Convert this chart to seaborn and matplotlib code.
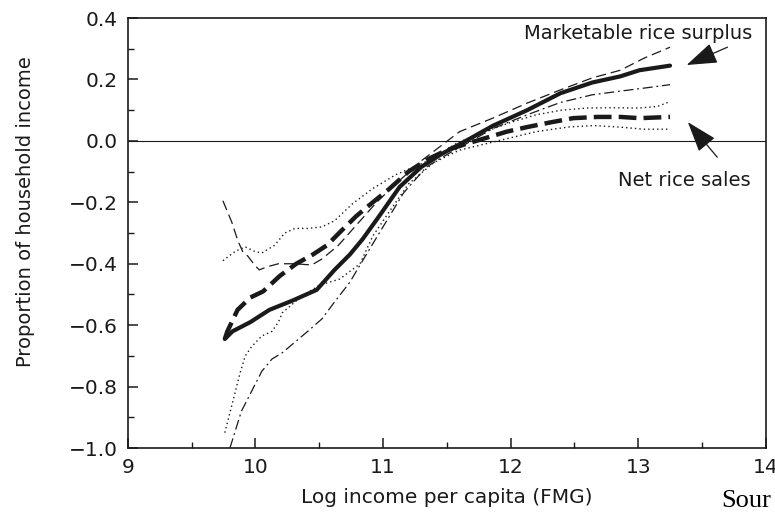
import matplotlib
matplotlib.use("Agg")
import matplotlib.pyplot as plt
import seaborn as sns
from matplotlib.ticker import MultipleLocator, FuncFormatter

# Marketable rice surplus: estimate (thick solid) and its band (thin dashed)
surplus_x = [9.76, 9.82, 9.96, 10.11, 10.29, 10.48, 10.62, 10.74, 10.84, 10.97, 11.13, 11.3,
             11.45, 11.68, 11.86, 12.13, 12.39, 12.64, 12.86, 13.01, 13.25]
surplus_y = [-0.645, -0.62, -0.59, -0.55, -0.52, -0.485, -0.42, -0.37, -0.32, -0.245, -0.15, -0.085,
             -0.045, 0.007, 0.049, 0.10, 0.155, 0.19, 0.21, 0.23, 0.245]

surplus_hi_x = [9.745, 9.815, 9.862, 9.90, 9.94, 9.995, 10.03, 10.09, 10.18, 10.31, 10.44, 10.52,
                10.65, 10.8, 10.95, 11.1, 11.3, 11.6, 11.86, 12.13, 12.39, 12.64, 12.86, 13.05, 13.25]
surplus_hi_y = [-0.195, -0.265, -0.325, -0.36, -0.375, -0.405, -0.42, -0.41, -0.40, -0.40, -0.404, -0.385,
                -0.34, -0.27, -0.20, -0.14, -0.065, 0.03, 0.074, 0.123, 0.166, 0.205, 0.23, 0.27, 0.305]

surplus_lo_x = [9.80, 9.89, 9.97, 10.05, 10.13, 10.21, 10.31, 10.41, 10.52, 10.61, 10.74, 10.84,
                11.0, 11.16, 11.34, 11.52, 11.68, 11.86, 12.13, 12.39, 12.64, 12.86, 13.05, 13.25]
surplus_lo_y = [-1.0, -0.88, -0.815, -0.75, -0.71, -0.69, -0.655, -0.62, -0.58, -0.53, -0.46, -0.39,
                -0.28, -0.17, -0.085, -0.04, -0.003, 0.04, 0.085, 0.125, 0.15, 0.162, 0.172, 0.183]

# Net rice sales: estimate (thick dashed) and its band (dotted)
sales_x = [9.76, 9.78, 9.86, 9.96, 10.06, 10.19, 10.32, 10.45, 10.56, 10.68, 10.79, 10.92, 11.05,
           11.2, 11.35, 11.5, 11.65, 11.81, 11.97, 12.13, 12.31, 12.49, 12.68, 12.86, 13.01, 13.25]
sales_y = [-0.645, -0.62, -0.55, -0.51, -0.49, -0.44, -0.40, -0.37, -0.34, -0.29, -0.245, -0.20, -0.156,
           -0.10, -0.06, -0.03, -0.01, 0.01, 0.03, 0.045, 0.06, 0.074, 0.078, 0.078, 0.074, 0.078]

sales_hi_x = [9.745, 9.84, 9.92, 9.995, 10.05, 10.15, 10.23, 10.31, 10.41, 10.52, 10.62, 10.76,
              10.92, 11.1, 11.37, 11.58, 11.8, 12.0, 12.2, 12.4, 12.6, 12.8, 13.0, 13.15, 13.25]
sales_hi_y = [-0.39, -0.36, -0.345, -0.36, -0.365, -0.34, -0.30, -0.285, -0.285, -0.28, -0.26, -0.205,
              -0.155, -0.11, -0.062, -0.007, 0.03, 0.06, 0.085, 0.10, 0.107, 0.108, 0.107, 0.112, 0.128]

sales_lo_x = [9.76, 9.80, 9.84, 9.88, 9.92, 9.97, 10.05, 10.13, 10.18, 10.21, 10.35, 10.5, 10.66,
              10.82, 10.92, 11.05, 11.2, 11.4, 11.6, 11.8, 12.0, 12.2, 12.45, 12.65, 12.85, 13.05, 13.25]
sales_lo_y = [-0.95, -0.885, -0.82, -0.755, -0.70, -0.67, -0.635, -0.62, -0.59, -0.56, -0.51, -0.47, -0.45,
              -0.40, -0.31, -0.23, -0.14, -0.07, -0.03, -0.01, 0.01, 0.03, 0.045, 0.05, 0.045, 0.038, 0.038]

sns.set_theme(style="ticks")
plt.rcParams["font.family"] = ["DejaVu Sans"]
ink = "#1a1a1a"

fig, ax = plt.subplots(figsize=(7.75, 5.15), dpi=100)
fig.subplots_adjust(left=0.165, right=0.988, bottom=0.130, top=0.965)

ax.axhline(0, color=ink, lw=0.8, zorder=1)

thin = 0.9
sns.lineplot(x=surplus_hi_x, y=surplus_hi_y, ax=ax, color=ink, lw=thin, linestyle=(0, (8, 4)))
sns.lineplot(x=surplus_lo_x, y=surplus_lo_y, ax=ax, color=ink, lw=thin, linestyle=(0, (8, 3, 1.5, 3)))
sns.lineplot(x=sales_hi_x, y=sales_hi_y, ax=ax, color=ink, lw=1.0, linestyle=(0, (1, 2.2)))
sns.lineplot(x=sales_lo_x, y=sales_lo_y, ax=ax, color=ink, lw=1.0, linestyle=(0, (1, 2.2)))
sns.lineplot(x=sales_x, y=sales_y, ax=ax, color=ink, lw=3.2, linestyle=(0, (4, 1.6)))
sns.lineplot(x=surplus_x, y=surplus_y, ax=ax, color=ink, lw=3.0)

ax.set_xlim(9, 14)
ax.set_ylim(-1.0, 0.4)
ax.xaxis.set_major_locator(MultipleLocator(1))
ax.xaxis.set_minor_locator(MultipleLocator(0.5))
ax.yaxis.set_major_locator(MultipleLocator(0.2))
ax.yaxis.set_minor_locator(MultipleLocator(0.1))
ax.yaxis.set_major_formatter(FuncFormatter(
    lambda v, p: f"{abs(v):.1f}" if abs(v) < 1e-9 else f"{v:.1f}".replace("-", "\u2212")))
ax.tick_params(which="major", direction="in", length=7, width=1.1, labelsize=14.5,
               colors=ink, pad=7)
ax.tick_params(which="minor", direction="in", length=4, width=1.0, colors=ink)
for s in ax.spines.values():
    s.set_visible(True)
    s.set_linewidth(1.2)
    s.set_color(ink)

ax.set_xlabel("Log income per capita (FMG)", fontsize=14.5, color=ink)
ax.set_ylabel("Proportion of household income", fontsize=14, color=ink)
ax.xaxis.set_label_coords(0.5, -0.093)
ax.yaxis.set_label_coords(-0.145, 0.549)

ax.text(13.0, 0.351, "Marketable rice surplus", ha="center", va="center", fontsize=14, color=ink)
ax.text(13.365, -0.128, "Net rice sales", ha="center", va="center", fontsize=14, color=ink)
arrow = dict(arrowstyle="-|>,head_length=1.6,head_width=0.55", color=ink, lw=0.9,
             shrinkA=0, shrinkB=0)
ax.annotate("", xy=(13.38, 0.247), xytext=(13.70, 0.305), arrowprops=arrow)
ax.annotate("", xy=(13.39, 0.061), xytext=(13.62, -0.053), arrowprops=arrow)

fig.text(0.931, 0.016, "Sour", family=["Liberation Serif", "DejaVu Serif"], fontsize=19,
         color="black", va="baseline")

fig.savefig("out.png", dpi=100)
